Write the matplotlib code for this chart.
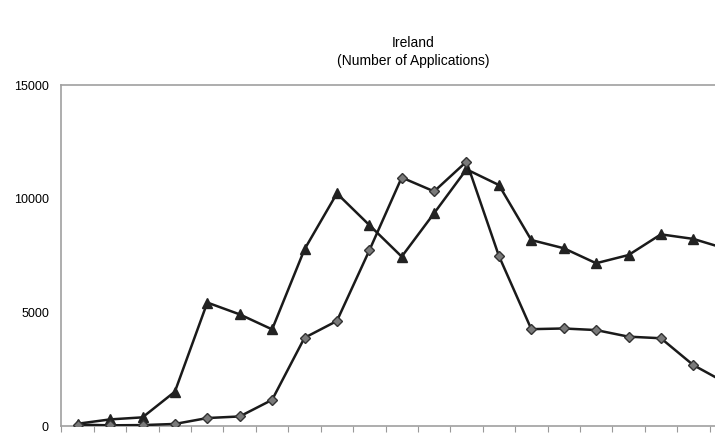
import matplotlib
matplotlib.use('Agg')
import numpy as np
import matplotlib.pyplot as plt

plt.rcParams['font.family'] = ['Liberation Sans', 'DejaVu Sans']

# === data ===
years = list(range(1990, 2011))
applications = [60, 30, 40, 90, 350, 420, 1150, 3880, 4620, 7720, 10930,
                10320, 11630, 7480, 4260, 4290, 4220, 3930, 3860, 2680, 1900]
other_series = [100, 290, 380, 1510, 5430, 4910, 4250, 7770, 10230, 8840, 7450,
                9360, 11290, 10600, 8180, 7820, 7160, 7520, 8430, 8230, 7800]
y_ticks = [0, 5000, 10000, 15000]

W, H = 715, 436
fig = plt.figure(figsize=(W / 100.0, H / 100.0), dpi=100)

# plot area is cut off on the right in the reference
n = len(years)
cat_w = 32.4
ax = fig.add_axes([61.5 / W, 10.0 / H, n * cat_w / W, 341.0 / H])

x = np.arange(n)
ax.plot(x, other_series, color='#1a1a1a', lw=1.8, marker='^', markersize=7,
        markerfacecolor='#222222', markeredgecolor='#222222', zorder=3)
ax.plot(x, applications, color='#1a1a1a', lw=1.8, marker='D', markersize=5.5,
        markerfacecolor='#7a7a7a', markeredgecolor='#333333', zorder=4)

ax.set_xlim(-0.5, n - 0.5)
ax.set_ylim(0, 15000)
ax.set_yticks(y_ticks)
ax.set_yticklabels([str(v) for v in y_ticks], fontsize=9)
ax.set_xticks([])
ax.set_xticks(np.arange(n + 1) - 0.5, minor=True)
ax.tick_params(axis='x', which='minor', length=4, width=0.8, color='#999999',
               direction='out')
ax.tick_params(axis='y', length=0, pad=9)

for s in ax.spines.values():
    s.set_color('#a0a0a0')
    s.set_linewidth(1.2)

fig.text(413.0 / W, 1 - 43.0 / H, 'Ireland', ha='center', va='center', fontsize=10)
fig.text(413.0 / W, 1 - 61.0 / H, '(Number of Applications)', ha='center',
         va='center', fontsize=10)

fig.savefig('out.png', dpi=100)
